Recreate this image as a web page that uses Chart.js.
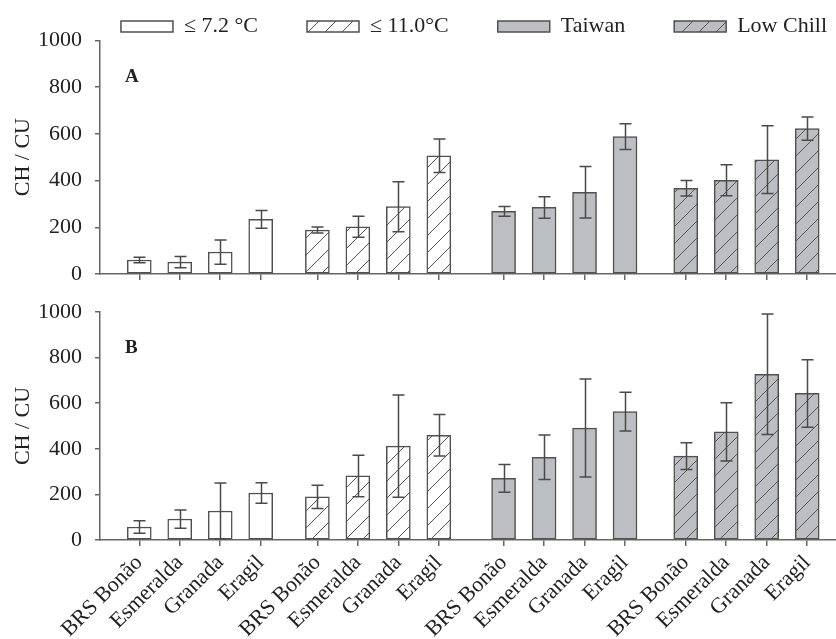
<!DOCTYPE html>
<html><head><meta charset="utf-8">
<script src="https://cdn.jsdelivr.net/npm/chart.js@4/dist/chart.umd.min.js"></script>
<style>
html,body{margin:0;padding:0;background:#fff;overflow:hidden;width:836px;height:639px}
#wrapA{position:absolute;left:0;top:0;width:876px;height:290px}
#wrapB{position:absolute;left:0;top:290px;width:836px;height:349px}
</style></head><body>
<div id="wrapA"><canvas id="cA"></canvas></div>
<div id="wrapB"><canvas id="cB"></canvas></div>
<script>
// ---- data ----
const cultivars = ['BRS Bonão', 'Esmeralda', 'Granada', 'Eragil'];
const models = ['≤ 7.2 °C', '≤ 11.0°C', 'Taiwan', 'Low Chill'];
const yTicks = [0, 200, 400, 600, 800, 1000];
const panels = ['A', 'B'];
// Panel A (mean, error)
const a72 = [60, 51, 94, 234];
const a72Err = [12, 24, 52, 38];
const a110 = [188, 202, 288, 506];
const a110Err = [13, 45, 107, 72];
const aTaiwan = [268, 285, 350, 588];
const aTaiwanErr = [21, 46, 110, 55];
const aLow = [367, 401, 489, 622];
const aLowErr = [33, 66, 145, 50];
// Panel B (mean, error)
const b72 = [57, 92, 127, 206];
const b72Err = [27, 40, 123, 45];
const b110 = [189, 281, 412, 459];
const b110Err = [51, 91, 224, 91];
const bTaiwan = [270, 363, 491, 563];
const bTaiwanErr = [61, 98, 215, 85];
const bLow = [368, 474, 727, 643];
const bLowErr = [59, 128, 264, 148];

// ---- layout ----
const FONT = 'Liberation Serif';
const GROUP_START = [0, 4.4, 9, 13.5];
const xPos = [];
GROUP_START.forEach(g => cultivars.forEach((c, i) => xPos.push(g + i)));
const X_MIN = -0.97;
const PX_PER_UNIT = 40.48;

function hatchPattern(canvas, bg) {
  const t = document.createElement('canvas');
  t.width = 17; t.height = 17;
  const g = t.getContext('2d');
  g.fillStyle = bg; g.fillRect(0, 0, 17, 17);
  g.strokeStyle = '#555'; g.lineWidth = 1;
  g.beginPath();
  g.moveTo(0, 17); g.lineTo(17, 0);
  g.moveTo(-1, 1); g.lineTo(1, -1);
  g.moveTo(16, 18); g.lineTo(18, 16);
  g.stroke();
  return canvas.getContext('2d').createPattern(t, 'repeat');
}

const errorBars = {
  id: 'errorBars',
  afterDatasetsDraw(chart) {
    const ctx = chart.ctx, ys = chart.scales.y;
    ctx.save();
    ctx.strokeStyle = '#4a4a4a';
    ctx.lineWidth = 1.5;
    chart.data.datasets.forEach((ds, di) => {
      const meta = chart.getDatasetMeta(di);
      meta.data.forEach((bar, i) => {
        const v = ds.data[i].y, e = ds.errors[i];
        const t = ys.getPixelForValue(v + e);
        const b = ys.getPixelForValue(Math.max(v - e, 0));
        const x = Math.round(bar.x) + 0.5, w = 6;
        ctx.beginPath();
        ctx.moveTo(x, t); ctx.lineTo(x, b);
        ctx.moveTo(x - w, t); ctx.lineTo(x + w, t);
        ctx.moveTo(x - w, b); ctx.lineTo(x + w, b);
        ctx.stroke();
      });
    });
    ctx.restore();
  }
};

const panelLabel = {
  id: 'panelLabel',
  afterDraw(chart, args, opts) {
    const ctx = chart.ctx;
    ctx.save();
    ctx.font = 'bold 19px "' + FONT + '"';
    ctx.fillStyle = '#222';
    ctx.textBaseline = 'alphabetic';
    ctx.fillText(opts.text, chart.chartArea.left + 25, chart.scales.y.getPixelForValue(opts.y));
    ctx.restore();
  }
};

function makeChart(id, series, errs, label, cfg) {
  const canvas = document.getElementById(id);
  const fills = ['#ffffff', hatchPattern(canvas, '#ffffff'), '#bdbec1', hatchPattern(canvas, '#bdbec1')];
  const datasets = models.map((m, s) => ({
    label: m,
    data: series[s].map((v, i) => ({x: xPos[s * 4 + i], y: v})),
    errors: errs[s],
    backgroundColor: fills[s],
    borderColor: '#505050',
    borderWidth: 1.5,
    borderSkipped: false,
    barThickness: 24,
    grouped: false
  }));
  // chart area runs from x=100 to canvas right; keep the same px-per-unit in both panels
  const xMax = X_MIN + (cfg.width - 100) / PX_PER_UNIT;
  return new Chart(canvas, {
    type: 'bar',
    data: {datasets},
    plugins: [errorBars, panelLabel],
    options: {
      responsive: true,
      maintainAspectRatio: false,
      animation: false,
      devicePixelRatio: 1,
      layout: {padding: {top: cfg.padTop, left: 0, right: 0, bottom: 0}},
      plugins: {
        tooltip: {enabled: false},
        panelLabel: {text: label, y: cfg.labelY},
        legend: {
          display: cfg.legend,
          position: 'top',
          fullSize: true,
          align: 'end',
          maxHeight: cfg.legendH,
          labels: {boxWidth: 52, boxHeight: 11, padding: 49, color: '#222',
                   font: {family: FONT, size: 22}}
        }
      },
      scales: {
        x: {
          type: 'linear',
          min: X_MIN, max: xMax,
          offset: false,
          afterBuildTicks: s => { s.ticks = xPos.map(v => ({value: v})); },
          afterFit: s => { s.height = cfg.xH; },
          ticks: {display: cfg.xLabels, autoSkip: false, minRotation: 45, maxRotation: 45,
                  padding: 4, color: '#222', font: {family: FONT, size: 22},
                  callback: (v, i) => cultivars[i % 4]},
          grid: {drawOnChartArea: false, offset: false, tickLength: 6, color: '#666', lineWidth: 1.5},
          border: {color: '#666', width: 1.5}
        },
        y: {
          min: 0, max: 1000,
          afterBuildTicks: s => { s.ticks = yTicks.map(v => ({value: v})); },
          afterFit: s => { s.width = 100; s.paddingTop = 0; s.paddingBottom = 0; },
          ticks: {padding: 13, color: '#222', font: {family: FONT, size: 22},
                  callback: v => String(v)},
          grid: {drawOnChartArea: false, tickLength: 5, color: '#666', lineWidth: 1.5},
          border: {color: '#666', width: 1.5},
          title: {display: true, text: 'CH / CU', color: '#222', font: {family: FONT, size: 22},
                  padding: {top: 10, bottom: 0}}
        }
      }
    }
  });
}

makeChart('cA', [a72, a110, aTaiwan, aLow], [a72Err, a110Err, aTaiwanErr, aLowErr], panels[0],
  {padTop: -33.5, legend: true, legendH: 73.8, xH: 16, xLabels: false, labelY: 820, width: 876});
makeChart('cB', [b72, b110, bTaiwan, bLow], [b72Err, b110Err, bTaiwanErr, bLowErr], panels[1],
  {padTop: 22, legend: false, legendH: 0, xH: 99, xLabels: true, labelY: 820, width: 836});
</script>
</body></html>
